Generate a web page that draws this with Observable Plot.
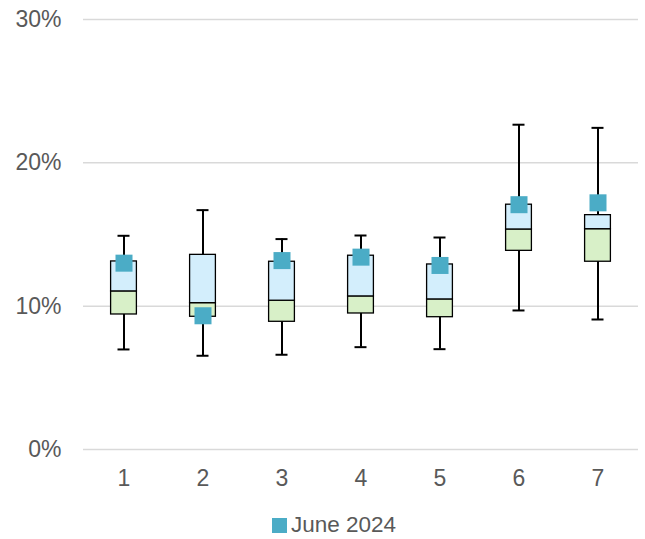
<!DOCTYPE html>
<html>
<head>
<meta charset="utf-8">
<script src="https://cdn.jsdelivr.net/npm/d3@7"></script>
<script src="https://cdn.jsdelivr.net/npm/@observablehq/plot@0.6"></script>
<style>
  html, body { margin: 0; padding: 0; background: #fff; }
  body { width: 645px; height: 539px; overflow: hidden; font-family: "Liberation Sans", Arial, sans-serif; }
  #chart svg { display: block; }
  #legend { display: flex; align-items: center; margin-left: 272px; margin-top: 15px; height: 20px; font-size: 22.5px; line-height: 20px; color: #595959; }
  #legend .sw { width: 15px; height: 15px; background: #4BACC6; margin-right: 4px; }
</style>
</head>
<body>
<div id="chart"></div>
<div id="legend"><span class="sw"></span><span>June 2024</span></div>
<script>
const categories = ["1", "2", "3", "4", "5", "6", "7"];
const minVals    = [6.98, 6.54, 6.61, 7.14, 7.00, 9.70, 9.07];
const q1Vals     = [9.42, 9.26, 8.91, 9.49, 9.23, 13.86, 13.10];
const medianVals = [11.03, 10.21, 10.38, 10.68, 10.47, 15.35, 15.37];
const q3Vals     = [13.12, 13.58, 13.10, 13.52, 12.91, 17.08, 16.35];
const maxVals    = [14.91, 16.70, 14.68, 14.93, 14.79, 22.66, 22.44];
const june2024   = [13.00, 9.33, 13.18, 13.42, 12.84, 17.08, 17.21];
const yTicks     = [0, 10, 20, 30];

const data = categories.map((c, i) => ({
  cat: c, min: minVals[i], q1: q1Vals[i], med: medianVals[i],
  q3: q3Vals[i], max: maxVals[i], june: june2024[i]
}));

const chart = Plot.plot({
  width: 645,
  height: 500,
  marginTop: 19,
  marginBottom: 51,
  marginLeft: 83,
  marginRight: 7,
  style: { fontFamily: "'Liberation Sans', Arial, sans-serif", fontSize: "23px", color: "#595959" },
  x: { domain: categories, padding: 0, label: null, tickSize: 0, tickPadding: 20 },
  y: { domain: [0, 30], ticks: yTicks, tickFormat: d => d + "%", label: null, tickSize: 0, tickPadding: 22 },
  marks: [
    Plot.ruleY(yTicks, { stroke: "#d9d9d9", strokeWidth: 1.5 }),
    Plot.ruleX(data, { x: "cat", y1: "min", y2: "max", stroke: "#000", strokeWidth: 2 }),
    Plot.tickY(data, { x: "cat", y: "min", stroke: "#000", strokeWidth: 2, insetLeft: 33.5, insetRight: 33.5 }),
    Plot.tickY(data, { x: "cat", y: "max", stroke: "#000", strokeWidth: 2, insetLeft: 33.5, insetRight: 33.5 }),
    Plot.barY(data, { x: "cat", y1: "q1", y2: "med", fill: "#D8F0C8", stroke: "#000", strokeWidth: 1.3, insetLeft: 26.6, insetRight: 26.6 }),
    Plot.barY(data, { x: "cat", y1: "med", y2: "q3", fill: "#D3EEFC", stroke: "#000", strokeWidth: 1.3, insetLeft: 26.6, insetRight: 26.6 }),
    Plot.dot(data, { x: "cat", y: "june", symbol: "square", r: 9.6, fill: "#4BACC6", stroke: null })
  ]
});
document.getElementById("chart").appendChild(chart);
</script>
</body>
</html>
